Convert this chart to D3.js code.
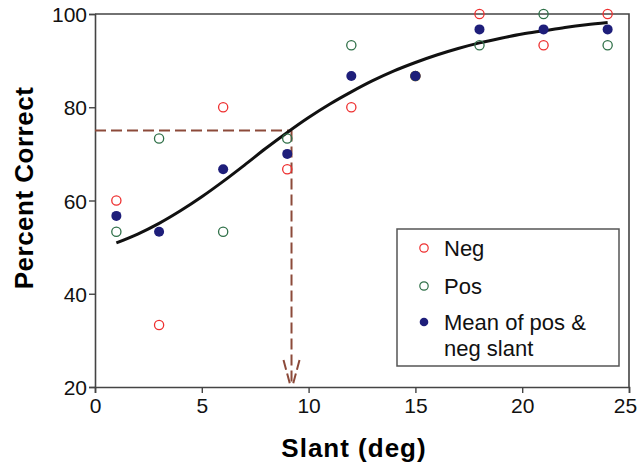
<!DOCTYPE html>
<html>
<head>
<meta charset="utf-8">
<script src="https://cdn.jsdelivr.net/npm/d3@7"></script>
<style>
  html, body { margin: 0; padding: 0; background: #fff; }
  svg { display: block; font-family: Arial, "Liberation Sans", sans-serif; }
</style>
</head>
<body>
<svg id="chart" width="637" height="467"></svg>
<script>
// slant angles (deg)
const slants = [1, 3, 6, 9, 12, 15, 18, 21, 24];
// percent correct for negative slant, positive slant and their mean
const negValues = [60, 33.3, 80, 66.7, 80, 86.7, 100, 93.3, 100];
const posValues = [53.3, 73.3, 53.3, 73.3, 93.3, 86.7, 93.3, 100, 93.3];
const meanValues = [56.7, 53.3, 66.7, 70, 86.7, 86.7, 96.7, 96.7, 96.7];

// fitted psychometric curve
const fitX = [1, 2, 3, 4, 5, 6, 7, 8, 9, 10, 11, 12, 13, 14, 15, 16, 17, 18, 19, 20, 21, 22, 23, 24];
const fitY = [50.9, 52.8, 55.1, 57.8, 60.8, 64.1, 67.6, 71.2, 74.6, 77.8, 80.7, 83.3, 85.7, 87.8, 89.6, 91.2, 92.6, 93.8, 94.8, 95.7, 96.4, 97.1, 97.7, 98.2];

// 75% threshold
const threshold = { slant: 9.2, pct: 75 };

const xTicks = [0, 5, 10, 15, 20, 25];
const yTicks = [20, 40, 60, 80, 100];

const legendItems = [
    { label: ['Neg'], kind: 'neg' },
    { label: ['Pos'], kind: 'pos' },
    { label: ['Mean of pos &', 'neg slant'], kind: 'mean' }
];

const COLORS = { neg: '#ee2f2f', pos: '#2f7048', mean: '#1e1e7a', guide: '#8c4a3a', frame: '#444' };

const svg = d3.select('#chart');
const x = d3.scaleLinear().domain([0, 25]).range([95, 629]);
const y = d3.scaleLinear().domain([20, 100]).range([387, 14]);

// frame (top + right)
svg.append('path')
    .attr('d', `M${x(0)},${y(100)} H${x(25)} V${y(20)}`)
    .attr('fill', 'none')
    .attr('stroke', COLORS.frame)
    .attr('stroke-width', 1.6);

// axes
const xAxis = svg.append('g')
    .attr('transform', `translate(0,${y(20)})`)
    .call(d3.axisBottom(x).tickValues(xTicks).tickSize(6).tickPadding(5));
const yAxis = svg.append('g')
    .attr('transform', `translate(${x(0)},0)`)
    .call(d3.axisLeft(y).tickValues(yTicks).tickSize(6).tickPadding(2));

[xAxis, yAxis].forEach(a => {
    a.select('.domain').attr('stroke', COLORS.frame).attr('stroke-width', 1.6);
    a.selectAll('.tick line').attr('stroke', COLORS.frame).attr('stroke-width', 1.4);
    a.selectAll('.tick text')
        .attr('font-family', 'Arial, "Liberation Sans", sans-serif')
        .attr('font-size', 21)
        .attr('fill', '#111');
});
yAxis.selectAll('.tick text').attr('dy', '0.36em');
// last x label sits at the window edge; nudge it in so it is not clipped
xAxis.selectAll('.tick text').filter(d => d === 25).attr('dx', -4);

// axis titles
svg.append('text')
    .attr('x', 354).attr('y', 457)
    .attr('text-anchor', 'middle')
    .attr('font-size', 26).attr('font-weight', 'bold')
    .attr('letter-spacing', 1)
    .text('Slant (deg)');
svg.append('text')
    .attr('transform', 'translate(33,188) rotate(-90)')
    .attr('text-anchor', 'middle')
    .attr('font-size', 26).attr('font-weight', 'bold')
    .attr('letter-spacing', 0.5)
    .text('Percent Correct');

// threshold guides
const guide = svg.append('g')
    .attr('stroke', COLORS.guide)
    .attr('stroke-width', 2)
    .attr('stroke-dasharray', '11,5')
    .attr('fill', 'none');
guide.append('line')
    .attr('x1', x(0)).attr('x2', x(threshold.slant))
    .attr('y1', y(threshold.pct)).attr('y2', y(threshold.pct));
guide.append('line')
    .attr('x1', x(threshold.slant)).attr('x2', x(threshold.slant))
    .attr('y1', y(threshold.pct)).attr('y2', y(20) - 2);
// arrow head (dashed V)
const tipX = x(threshold.slant), tipY = y(20);
guide.append('path')
    .attr('stroke-dasharray', '10,4')
    .attr('d', `M${tipX - 8},${tipY - 27} L${tipX - 1},${tipY - 1} M${tipX + 8},${tipY - 27} L${tipX + 1},${tipY - 1}`);

// fitted curve
const line = d3.line()
    .x((d, i) => x(fitX[i]))
    .y(d => y(d))
    .curve(d3.curveCatmullRom);
svg.append('path')
    .attr('d', line(fitY))
    .attr('fill', 'none')
    .attr('stroke', '#111')
    .attr('stroke-width', 3);

// points
const pts = svg.append('g');
pts.selectAll('circle.neg')
    .data(negValues).join('circle')
    .attr('class', 'neg')
    .attr('cx', (d, i) => x(slants[i])).attr('cy', d => y(d))
    .attr('r', 4.6)
    .attr('fill', 'none').attr('stroke', COLORS.neg).attr('stroke-width', 1.3);
pts.selectAll('circle.pos')
    .data(posValues).join('circle')
    .attr('class', 'pos')
    .attr('cx', (d, i) => x(slants[i])).attr('cy', d => y(d))
    .attr('r', 4.6)
    .attr('fill', 'none').attr('stroke', COLORS.pos).attr('stroke-width', 1.3);
pts.selectAll('circle.mean')
    .data(meanValues).join('circle')
    .attr('class', 'mean')
    .attr('cx', (d, i) => x(slants[i])).attr('cy', d => y(d))
    .attr('r', 5)
    .attr('fill', COLORS.mean);

// legend
const legend = svg.append('g');
legend.append('rect')
    .attr('x', 397).attr('y', 229)
    .attr('width', 222).attr('height', 137)
    .attr('fill', '#fff')
    .attr('stroke', '#555').attr('stroke-width', 1.5);

const rowY = [248, 286, 322];
legendItems.forEach((item, i) => {
    const g = legend.append('g');
    if (item.kind === 'mean') {
        g.append('circle').attr('cx', 424).attr('cy', rowY[i]).attr('r', 4.3).attr('fill', COLORS.mean);
    } else {
        g.append('circle').attr('cx', 424).attr('cy', rowY[i]).attr('r', 4.2)
            .attr('fill', 'none').attr('stroke', COLORS[item.kind]).attr('stroke-width', 1.2);
    }
    item.label.forEach((t, j) => {
        g.append('text')
            .attr('x', 444).attr('y', rowY[i] + 8 + j * 26)
            .attr('font-size', 22).attr('fill', '#111')
            .text(t);
    });
});
</script>
</body>
</html>
